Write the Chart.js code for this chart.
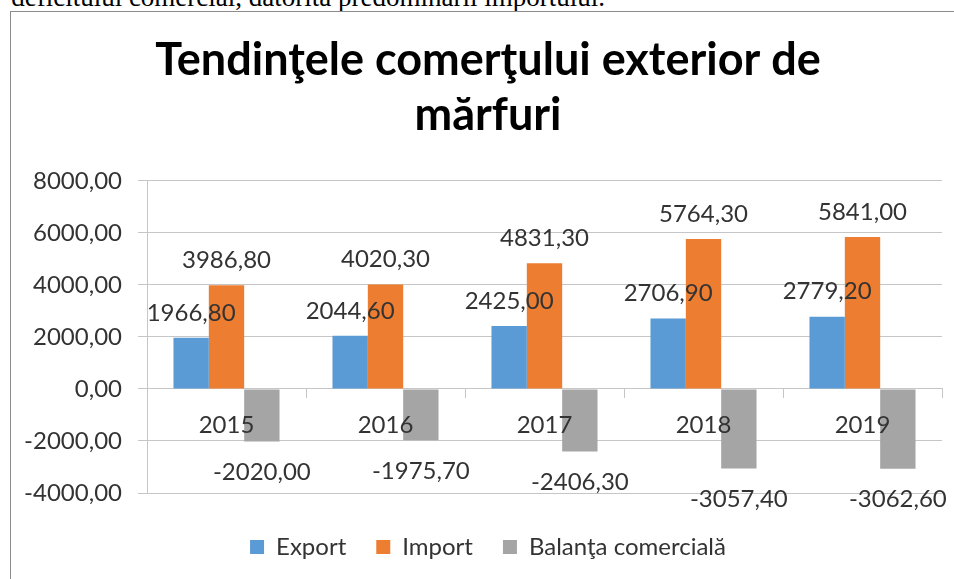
<!DOCTYPE html>
<html>
<head>
<meta charset="utf-8">
<script src="https://cdn.jsdelivr.net/npm/chart.js@4/dist/chart.umd.min.js"></script>
<style>
  html, body { margin: 0; padding: 0; background: #fff; }
  body { position: relative; width: 954px; height: 579px; overflow: hidden; }
  #note { position: absolute; right: 349px; top: -16px; font: 27px "Liberation Serif", serif; line-height: 27px; white-space: nowrap; color: #000; }
  #frame { position: absolute; left: 10px; top: 11px; width: 1000px; height: 620px; border: 1px solid #8c8c8c; box-sizing: border-box; }
  #wrap { position: absolute; left: 11px; top: 12px; width: 954px; height: 567px; }
</style>
</head>
<body>
<div id="note">deficitului comercial, datorită predominării importului.</div>
<div id="frame"></div>
<div id="wrap"><canvas id="c"></canvas></div>
<script>
const years = ['2015', '2016', '2017', '2018', '2019'];
const exportVals = [1966.80, 2044.60, 2425.00, 2706.90, 2779.20];
const importVals = [3986.80, 4020.30, 4831.30, 5764.30, 5841.00];
const balanceVals = [-2020.00, -1975.70, -2406.30, -3057.40, -3062.60];
const seriesNames = ['Export', 'Import', 'Balanţa comercială'];
const yMin = -4000, yMax = 8000, yStep = 2000;

const fmt = v => v.toFixed(2).replace('.', ',');
const txt = '#333333';
const gridCol = '#c6c6c6';

// Excel-style value labels above / below each bar
const valueLabels = {
  id: 'valueLabels',
  afterDraw(chart) {
    const ctx = chart.ctx;
    ctx.save();
    ctx.font = '24px Lato';
    ctx.fillStyle = txt;
    ctx.textAlign = 'center';
    ctx.textBaseline = 'middle';
    chart.data.datasets.forEach((ds, i) => {
      chart.getDatasetMeta(i).data.forEach((bar, j) => {
        const v = ds.data[j];
        const y = v >= 0 ? bar.y - 25 : bar.y + 31;
        ctx.fillText(fmt(v), bar.x, y);
      });
    });
    ctx.restore();
  }
};

new Chart(document.getElementById('c'), {
  type: 'bar',
  data: {
    labels: years,
    datasets: [
      { label: seriesNames[0], data: exportVals, backgroundColor: '#5b9bd5' },
      { label: seriesNames[1], data: importVals, backgroundColor: '#ed7d31' },
      { label: seriesNames[2], data: balanceVals, backgroundColor: '#a5a5a5' }
    ]
  },
  options: {
    responsive: true,
    maintainAspectRatio: false,
    animation: false,
    datasets: { bar: { categoryPercentage: 0.667, barPercentage: 1 } },
    layout: { padding: { left: 0, right: 0, top: 0, bottom: 10 } },
    plugins: {
      title: {
        display: true,
        text: ['Tendinţele comerţului exterior de', 'mărfuri'],
        color: '#000',
        font: { family: 'Lato', size: 45, weight: 'bold', lineHeight: 1.222 },
        padding: { top: 21, bottom: 38 }
      },
      legend: {
        position: 'bottom',
        title: { display: true, text: '', font: { size: 1, lineHeight: 1 }, padding: { top: 0, bottom: 11 } },
        labels: { color: txt, font: { family: 'Lato', size: 24 }, boxWidth: 14, boxHeight: 14, padding: 30 }
      },
      tooltip: { enabled: false }
    },
    scales: {
      x: {
        position: { y: 0 },
        grid: { drawOnChartArea: false, drawTicks: true, tickLength: 9, color: gridCol, offset: true },
        border: { color: gridCol },
        // year labels sit on top of the bars, as in the original
        ticks: { z: 1, color: txt, font: { family: 'Lato', size: 24 }, padding: 13 }
      },
      y: {
        min: yMin,
        max: yMax,
        afterFit(s) { s.width = 136; },
        ticks: { stepSize: yStep, color: txt, font: { family: 'Lato', size: 24 }, padding: 16, callback: v => fmt(v) },
        grid: { color: gridCol, tickLength: 9 },
        border: { color: gridCol }
      },
      // empty right-hand margin so the title and legend centre like the original
      yRight: {
        position: 'right',
        afterFit(s) { s.width = 23; },
        grid: { display: false },
        ticks: { display: false },
        border: { display: false }
      }
    }
  },
  plugins: [valueLabels]
});
</script>
</body>
</html>
